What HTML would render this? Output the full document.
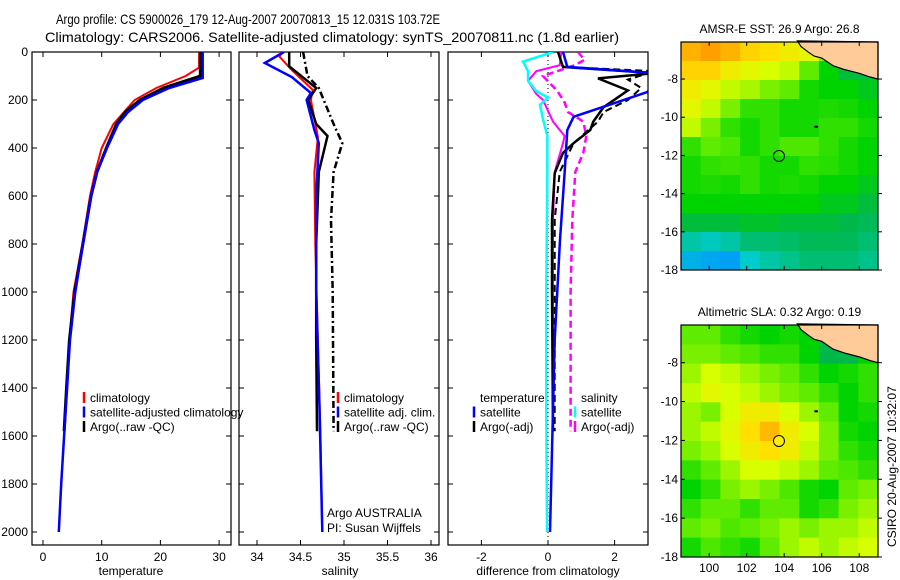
<!DOCTYPE html>
<html><head><meta charset="utf-8"><style>
html,body{margin:0;padding:0;background:#fff}
svg{display:block;font-family:"Liberation Sans",sans-serif}
</style></head><body>
<svg id="fig" width="900" height="580" viewBox="0 0 900 580" xmlns="http://www.w3.org/2000/svg">
<text x="56" y="24" font-size="14" textLength="384" lengthAdjust="spacingAndGlyphs">Argo profile: CS 5900026_179 12-Aug-2007 20070813_15 12.031S 103.72E</text>
<text x="45" y="42" font-size="14" textLength="574" lengthAdjust="spacingAndGlyphs">Climatology: CARS2006. Satellite-adjusted climatology: synTS_20070811.nc (1.8d earlier)</text>
<g id="g"></g>
</svg>
<script>
// ---------- data ----------
const depthTicks=[0,200,400,600,800,1000,1200,1400,1600,1800,2000];
const tempTicks=[0,10,20,30];
const salTicks=[34,34.5,35,35.5,36];
const diffTicks=[-2,0,2];
const tClimD=[0,65,100,150,200,300,400,500,600,800,1000,1200,1400,1600,1800,2000];
const tClim=[26.6,26.6,24.3,19.3,15.6,12,10,8.9,8,6.7,5.2,4.5,4.1,3.6,3.1,2.7];
const tSatD=[0,108,150,200,250,300,400,500,600,800,1000,1200,1400,1600,1800,2000];
const tSat=[27.2,27.2,21.5,17,14.5,12.8,10.9,9.2,8.2,6.8,5.5,4.6,4.1,3.6,3.1,2.7];
const tArgoD=[0,100,150,200,250,300,400,500,600,800,1000,1200,1400,1580];
const tArgo=[26.8,26.8,20.5,16.5,14,12.5,10.8,9.2,8.2,6.8,5.4,4.5,4.0,3.6];
const sClimD=[0,20,75,158,200,354,500,800,1200,1600,2000];
const sClim=[34.28,34.26,34.4,34.64,34.62,34.70,34.66,34.67,34.7,34.73,34.75];
const sSatD=[0,46,104,171,200,325,380,600,1000,1500,2000];
const sSat=[34.31,34.09,34.4,34.62,34.57,34.66,34.71,34.68,34.68,34.72,34.75];
const sArgoD=[0,60,150,200,300,350,500,800,1200,1580];
const sArgo=[34.37,34.37,34.68,34.59,34.68,34.81,34.71,34.68,34.68,34.69];
const sArgoRawD=[0,100,150,300,380,500,700,1000,1580];
const sArgoRaw=[34.53,34.58,34.71,34.88,34.98,34.88,34.85,34.87,34.88];
const dTSatD=[0,62,88,166,213,270,325,505,783,1200,2000];
const dTSat=[0.45,0.58,3.2,3.0,2.0,0.77,0.58,0.5,0.36,0.2,0.06];
const dTArgoD=[0,62,88,110,160,230,290,325,380,420,505,700,1000,1580];
const dTArgo=[0.3,0.45,3.2,1.5,2.4,1.67,1.36,1.27,0.77,0.45,0.2,0.12,0.12,0.15];
const dTRawD=[0,62,80,115,150,200,250,290,380,500,700,1000,1580];
const dTRaw=[0.3,0.45,3.2,2.4,2.8,2.4,1.67,1.5,0.77,0.35,0.2,0.2,0.2];
const dSSatD=[0,40,80,120,163,190,220,280,350,500,1000,1500,2000];
const dSSat=[0.15,-0.75,-0.6,-0.6,-0.35,0,-0.24,-0.15,-0.02,-0.02,-0.05,-0.05,-0.03];
const dSArgoD=[0,55,80,120,175,200,290,350,380,500,700,1000,1580];
const dSArgo=[0.4,0.35,-0.35,-0.6,-0.35,-0.15,0.15,0.5,0.45,0.2,0.15,0.15,0.15];
const dSRawD=[0,33,55,80,100,130,160,210,250,290,350,420,500,700,1000,1580];
const dSRaw=[0.9,1.1,0.8,0.27,-0.15,0.05,0.27,0.5,0.6,1.06,1.15,1.06,0.82,0.73,0.68,0.68];
const sstGrid=[
[.85,.88,.85,.8,.78,.75,.72,.62,.6,.6],
[.8,.8,.75,.72,.7,.68,.6,.5,.46,.46],
[.75,.72,.68,.66,.62,.6,.52,.5,.5,.48],
[.72,.68,.62,.55,.55,.52,.52,.53,.52,.5],
[.68,.62,.55,.52,.55,.52,.52,.55,.55,.52],
[.55,.6,.58,.52,.55,.58,.58,.55,.52,.5],
[.52,.55,.56,.55,.52,.52,.55,.54,.52,.5],
[.52,.53,.52,.55,.52,.53,.52,.5,.5,.48],
[.5,.5,.5,.5,.5,.5,.5,.48,.48,.46],
[.46,.46,.46,.47,.47,.46,.46,.46,.45,.44],
[.38,.36,.38,.42,.42,.43,.44,.44,.44,.42],
[.3,.28,.27,.35,.38,.4,.42,.42,.42,.4]];
const slaGrid=[
[.6,.6,.55,.52,.5,.52,.5,.48,.5,.5],
[.62,.62,.6,.58,.55,.55,.5,.45,.45,.5],
[.65,.7,.68,.65,.62,.6,.55,.5,.52,.55],
[.68,.72,.7,.68,.65,.62,.6,.55,.5,.55],
[.65,.62,.7,.75,.75,.7,.65,.6,.5,.52],
[.65,.68,.72,.78,.84,.75,.7,.62,.52,.5],
[.62,.65,.7,.75,.78,.75,.68,.62,.55,.52],
[.55,.6,.65,.7,.7,.68,.65,.6,.58,.55],
[.5,.55,.62,.65,.62,.58,.52,.5,.6,.62],
[.55,.6,.6,.55,.6,.6,.52,.55,.62,.65],
[.6,.62,.58,.6,.62,.65,.62,.65,.65,.68],
[.52,.58,.55,.52,.6,.65,.68,.65,.68,.7]];
const lonTicks=[100,102,104,106,108];
const latTicks=[-8,-10,-12,-14,-16,-18];
const argoPos=[103.72,-12.031];
const coastLon=[104.7,104.9,105.3,105.6,106,106.6,107.2,108,108.6,109];
const coastLat=[-6.0,-6.3,-6.6,-6.8,-6.9,-7.3,-7.5,-7.7,-7.9,-8.0];
// ---------- drawing ----------
const NS='http://www.w3.org/2000/svg';
const G=document.getElementById('g');
function el(t,a,p){const e=document.createElementNS(NS,t);for(const k in a)e.setAttribute(k,a[k]);(p||G).appendChild(e);return e;}
function txt(s,a,p){const e=el('text',a,p);e.textContent=s;return e;}
const dY=d=>52+d*0.24;
const P1={x0:32,x1:231,sc:v=>43+v*5.87};
const P2={x0:239,x1:439,sc:v=>257+(v-34)*87};
const P3={x0:448,x1:648,sc:v=>548+v*33.3};
const Y0=52,Y1=545;
function panel(P,name,ticks,label,lx){
  const g=el('g',{});
  
  
  const r=el('rect',{x:P.x0,y:Y0,width:P.x1-P.x0,height:Y1-Y0,fill:'none',stroke:'#000','stroke-width':1.2},g);
  
  
  ticks.forEach(t=>{const x=P.sc(t);
    el('line',{x1:x,x2:x,y1:Y1,y2:Y1-5,stroke:'#000'},g);
    el('line',{x1:x,x2:x,y1:Y0,y2:Y0+5,stroke:'#000'},g);
    const l=txt(String(t),{x:x,y:561,'font-size':12,'text-anchor':'middle'},g);
    
    
  });
  depthTicks.forEach(d=>{const y=dY(d);
    el('line',{x1:P.x0,x2:P.x0+5,y1:y,y2:y,stroke:'#000'},g);
    el('line',{x1:P.x1,x2:P.x1-5,y1:y,y2:y,stroke:'#000'},g);});
  const xl=txt(label,{x:lx,y:575,'font-size':12,'text-anchor':'middle'},g);
  
  
  return g;
}
function line(P,D,V,color,w,dash,name,g){
  const cp='clip'+Math.round(P.x0);
  let pts=D.map((d,i)=>P.sc(V[i]).toFixed(1)+','+dY(d).toFixed(1)).join(' ');
  const a={points:pts,fill:'none',stroke:color,'stroke-width':w,'clip-path':'url(#'+cp+')'};
  if(dash)a['stroke-dasharray']=dash;
  const e=el('polyline',a,g);
  
  
}
const defs=el('defs',{});
[P1,P2,P3].forEach(P=>{const c=el('clipPath',{id:'clip'+Math.round(P.x0)},defs);el('rect',{x:P.x0,y:Y0,width:P.x1-P.x0,height:Y1-Y0},c);});
const lc=el('clipPath',{id:'legclip'},defs);el('rect',{x:32,y:Y0,width:212,height:Y1-Y0},lc);
depthTicks.forEach(d=>{const l=txt(String(d),{x:28,y:dY(d)+4,'font-size':12,'text-anchor':'end'});
  
  });
const g1=panel(P1,'temperature-panel',tempTicks,'temperature',131);
line(P1,tClimD,tClim,'#f00',2,null,'temp-climatology-line',g1);
line(P1,tArgoD,tArgo,'#000',3,null,'temp-argo-line',g1);
line(P1,tSatD,tSat,'#00f',2.5,null,'temp-satellite-line',g1);
const g2=panel(P2,'salinity-panel',salTicks,'salinity',340);
line(P2,sClimD,sClim,'#f00',2,null,'sal-climatology-line',g2);
line(P2,sArgoRawD,sArgoRaw,'#000',2.5,'7,3,2,3','sal-argo-raw-line',g2);
line(P2,sArgoD,sArgo,'#000',2.5,null,'sal-argo-line',g2);
line(P2,sSatD,sSat,'#00f',2.5,null,'sal-satellite-line',g2);
const g3=panel(P3,'difference-panel',diffTicks,'difference from climatology',548);
el('line',{x1:P3.sc(0),x2:P3.sc(0),y1:Y0,y2:Y1,stroke:'#000','stroke-dasharray':'1,3'},g3);
line(P3,dSRawD,dSRaw,'#f0f',2.5,'7,4','sal-diff-argo-raw-line',g3);
line(P3,dSArgoD,dSArgo,'#f0f',2,null,'sal-diff-argo-line',g3);
line(P3,dSSatD,dSSat,'#0ff',2.5,null,'sal-diff-satellite-line',g3);
line(P3,dTRawD,dTRaw,'#000',2,'7,4','temp-diff-argo-raw-line',g3);
line(P3,dTArgoD,dTArgo,'#000',2.5,null,'temp-diff-argo-line',g3);
line(P3,dTSatD,dTSat,'#00f',2.5,null,'temp-diff-satellite-line',g3);
function legend(x,y,items,name,clipX){
  const g=el('g',{});
  
  
  items.forEach((it,i)=>{const yy=y+i*14.5;
    if(it[0])el('line',{x1:x,x2:x,y1:yy-5,y2:yy+6,stroke:it[0],'stroke-width':2.5},g);
    const t=txt(it[1],{x:x+6,y:yy+5,'font-size':12},g);
    
    
    if(clipX)t.setAttribute('clip-path','url(#legclip)');});
}
legend(84,397,[['#f00','climatology'],['#00f','satellite-adjusted climatology'],['#000','Argo(..raw -QC)']],'temperature-legend',true);
legend(338,397,[['#f00','climatology'],['#00f','satellite adj. clim.'],['#000','Argo(..raw -QC)']],'salinity-legend');
legend(474,397,[[null,'temperature'],['#00f','satellite'],['#000','Argo(-adj)']],'temp-diff-legend');
legend(575,397,[[null,'salinity'],['#0ff','satellite'],['#f0f','Argo(-adj)']],'sal-diff-legend');
const pi1=txt('Argo AUSTRALIA',{x:327,y:517,'font-size':12});


const pi2=txt('PI: Susan Wijffels',{x:327,y:532,'font-size':12});


// colormap
const stops=[[0,[0,64,255]],[.25,[0,150,255]],[.35,[0,204,204]],[.45,[0,184,74]],[.5,[0,212,0]],[.6,[96,236,0]],[.7,[216,255,0]],[.78,[255,224,0]],[.88,[255,160,0]],[1,[255,96,0]]];
function cmap(v){for(let i=1;i<stops.length;i++){if(v<=stops[i][0]){const a=stops[i-1],b=stops[i],f=(v-a[0])/(b[0]-a[0]);return 'rgb('+a[1].map((c,k)=>Math.round(c+(b[1][k]-c)*f)).join(',')+')';}}return 'rgb(255,96,0)';}
function map(M,grid,name,title,showLon,fillMarker){
  const lx=l=>M.x0+(l-98.5)/10.5*(M.x1-M.x0);
  const ly=l=>M.y0+(-6.06-l)/11.94*(M.y1-M.y0);
  const g=el('g',{});
  
  
  const rows=grid.length,cols=grid[0].length,dl=10.5/cols,dt=11.94/rows;
  grid.forEach((row,r)=>row.forEach((v,c)=>{
    const x=lx(98.5+c*dl),y=ly(-6.06-r*dt);
    const cell=el('rect',{x:x,y:y,width:lx(98.5+(c+1)*dl)-x+0.5,height:ly(-6.06-(r+1)*dt)-y+0.5,fill:cmap(v)},g);
    
    
  }));
  let pts=coastLon.map((l,i)=>lx(l)+','+ly(coastLat[i])).join(' ')+' '+lx(109)+','+ly(-6.06);
  const land=el('polygon',{points:pts,fill:'#ffcc99',stroke:'#000','stroke-width':1.2},g);
  
  
  el('ellipse',{cx:lx(105.7),cy:ly(-10.5),rx:2,ry:1.2,fill:'#000'},g);
  const mk=el('circle',{cx:lx(argoPos[0]),cy:ly(argoPos[1]),r:5.5,fill:fillMarker,stroke:'#000','stroke-width':1},g);
  
  
  el('rect',{x:M.x0,y:M.y0,width:M.x1-M.x0,height:M.y1-M.y0,fill:'none',stroke:'#000','stroke-width':1.2},g);
  latTicks.forEach(t=>{const y=ly(t);
    el('line',{x1:M.x0,x2:M.x0+4,y1:y,y2:y,stroke:'#000'},g);
    el('line',{x1:M.x1,x2:M.x1+4,y1:y,y2:y,stroke:'#000'},g);
    const l=txt(String(t),{x:M.x0-3,y:y+4,'font-size':12,'text-anchor':'end'},g);
    
    });
  lonTicks.forEach(t=>{const x=lx(t);
    el('line',{x1:x,x2:x,y1:M.y0,y2:M.y0+4,stroke:'#000'},g);
    el('line',{x1:x,x2:x,y1:M.y1,y2:M.y1-4,stroke:'#000'},g);
    if(showLon){const l=txt(String(t),{x:x,y:M.y1+15,'font-size':12,'text-anchor':'middle'},g);
      
      }});
  const tt=txt(title,{x:(M.x0+M.x1)/2,y:M.y0-9,'font-size':12,'text-anchor':'middle'},g);
  
  
}
map({x0:681,x1:878,y0:42,y1:270},sstGrid,'sst-map','AMSR-E SST: 26.9 Argo: 26.8',false,'none');
map({x0:681,x1:878,y0:325,y1:557},slaGrid,'sla-map','Altimetric SLA: 0.32 Argo: 0.19',true,'#ffee00');
const cs=txt('CSIRO 20-Aug-2007 10:32:07',{x:0,y:0,'font-size':12,transform:'translate(896,547) rotate(-90)'});


</script>
</body></html>
